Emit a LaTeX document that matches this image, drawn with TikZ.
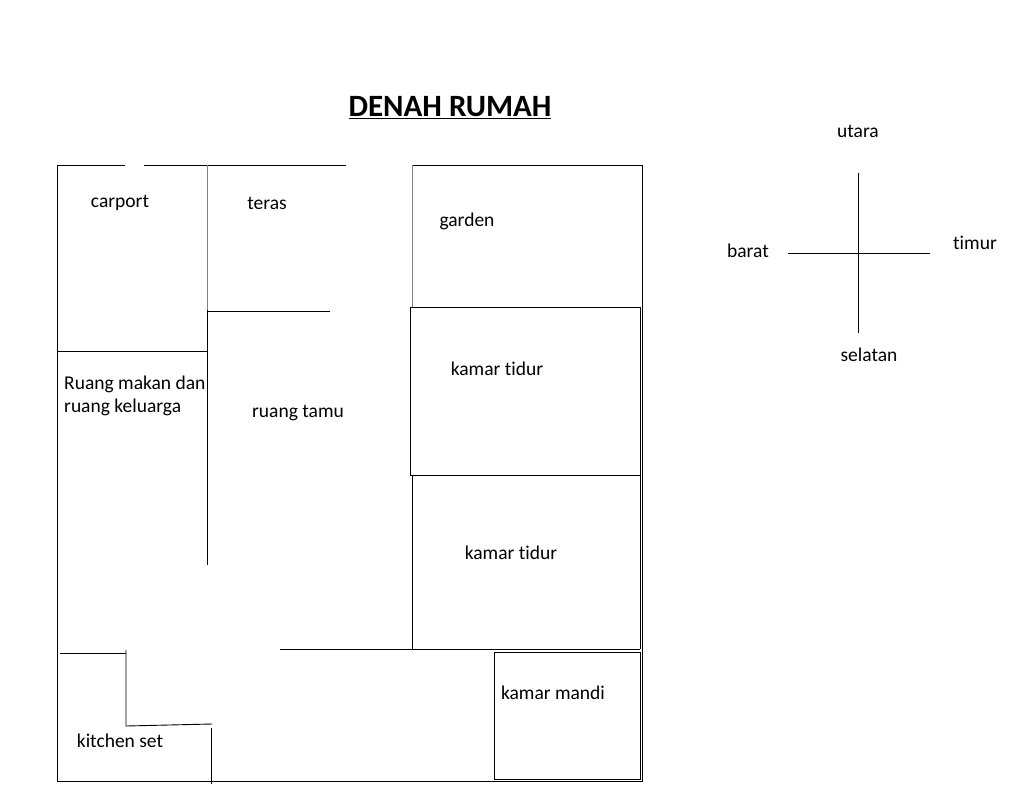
\documentclass[tikz,border=0pt]{standalone}
\usepackage{fontspec}
\setmainfont[Ligatures={NoCommon}]{Carlito}
\begin{document}
\begin{tikzpicture}[x=1pt,y=-1pt,wall/.style={black,line width=0.9pt},gwall/.style={gray,line width=0.9pt},lbl/.style={font=\fontsize{19.5}{23}\selectfont,inner sep=0pt}]
\useasboundingbox (0,0) rectangle (1013,804);
\fill[white] (0,0) rectangle (1013,804);
% outer
\draw[wall] (125,165) -- (57,165) -- (57,781) -- (642,781) -- (642,165) -- (412,165);
\draw[wall] (144,165) -- (346,165);
\draw[gwall] (207,165) -- (207,310);
\draw[wall] (207,310) -- (207,565);
\draw[wall] (207,311) -- (330,311);
\draw[wall] (57,351) -- (207,351);
\draw[gwall] (412,165) -- (412,307);
\draw[wall] (410,307) rectangle (640,475);
\draw[wall] (412,475) -- (412,649);
\draw[wall] (640,475) -- (640,649);
\draw[wall] (280,649) -- (640,649);
\draw[wall] (494,652) rectangle (640,779);
\draw[wall] (60,653) -- (126,653);
\draw[wall] (126,650) -- (126,726) -- (212,724);
\draw[wall] (211,728) -- (211,784);
% compass
\draw[wall] (858,173) -- (858,333);
\draw[wall] (788,253) -- (930,253);
\node[font=\fontsize{31}{36}\selectfont\bfseries,inner sep=0pt] (title) at (450,108) {\underline{DENAH RUMAH}};
\node[lbl] (u) at (858,131) {utara};
\node[lbl] (s) at (869,355) {selatan};
\node[lbl] (b) at (748,251) {barat};
\node[lbl] (t) at (975,243) {timur};
\node[lbl] (c) at (120,203) {carport};
\node[lbl] (te) at (267,203) {teras};
\node[lbl] (g) at (467,221) {garden};
\node[lbl] (k1) at (497,369) {kamar tidur};
\node[lbl,anchor=west,align=left] (rm) at (64,396) {Ruang makan dan\\ruang keluarga};
\node[lbl] (rt) at (298,413) {ruang tamu};
\node[lbl] (k2) at (511,553) {kamar tidur};
\node[lbl] (km) at (553,693) {kamar mandi};
\node[lbl] (ks) at (120,741) {kitchen set};
\end{tikzpicture}
\end{document}
